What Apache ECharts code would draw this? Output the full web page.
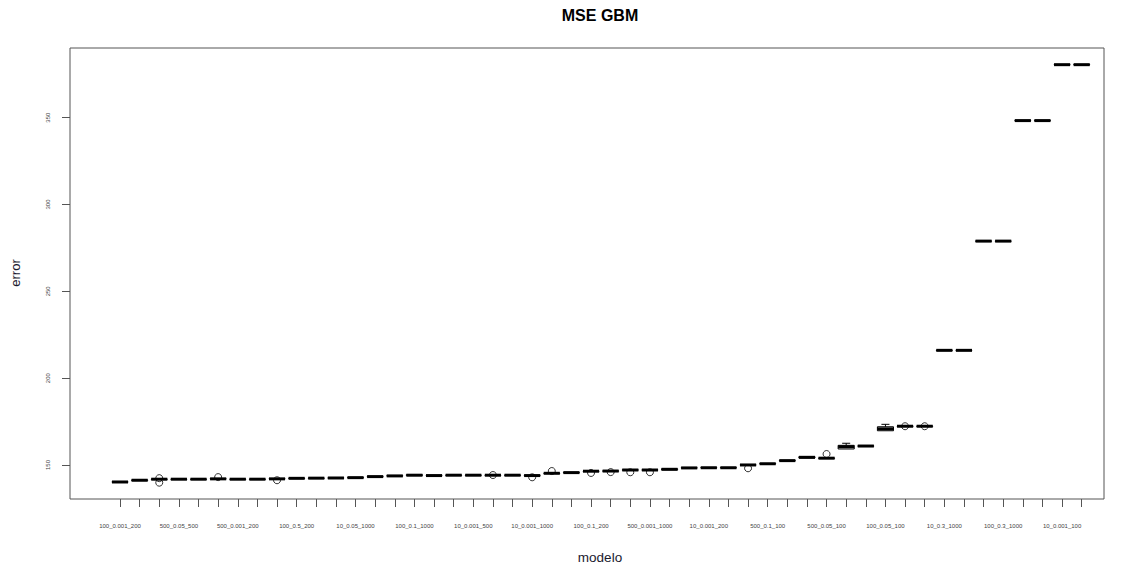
<!DOCTYPE html>
<html>
<head>
<meta charset="utf-8">
<script src="https://cdn.jsdelivr.net/npm/echarts@6/dist/echarts.min.js"></script>
<style>
html,body{margin:0;padding:0;background:#fff;}
#chart{width:1124px;height:570px;}
</style>
</head>
<body>
<div id="chart"></div>
<script>
// Category names (only every third one is legible in the reference; others left blank)
const categories = [
  '100_0.001_200','','','500_0.05_500','','','500_0.001_200','','','100_0.5_200',
  '','','10_0.05_1000','','','100_0.1_1000','','','10_0.001_500','',
  '','10_0.001_1000','','','100_0.1_200','','','500_0.001_1000','','',
  '10_0.001_200','','','500_0.1_100','','','500_0.05_100','','','100_0.05_100',
  '','','10_0.3_1000','','','100_0.3_1000','','','10_0.001_100',''
];
// Box statistics per category
const medians = [
  140.2,141.2,141.8,141.8,141.8,142.0,141.8,141.8,142.0,142.3,
  142.4,142.5,142.7,143.3,143.7,144.1,143.9,144.1,144.1,144.1,
  144.1,143.9,145.2,145.6,146.4,146.5,147.1,147.1,147.5,148.3,
  148.4,148.4,150.0,150.7,152.5,154.4,153.9,160.5,160.9,170.8,
  172.3,172.3,216.0,216.0,278.9,278.9,348.3,348.3,380.5,380.5
];
const q1 = [
  140.1,141.0,141.7,141.7,141.7,141.9,141.7,141.7,141.9,142.2,
  142.3,142.4,142.6,143.2,143.6,143.9,143.8,144.0,144.0,144.0,
  144.0,143.8,145.1,145.5,146.3,146.4,147.0,147.0,147.2,148.2,
  148.3,148.3,149.9,150.6,152.4,154.0,153.8,159.2,160.8,169.7,
  172.2,172.2,215.9,215.9,278.8,278.8,348.2,348.2,380.4,380.4
];
const q3 = [
  140.3,141.4,141.9,141.9,141.9,142.1,141.9,141.9,142.1,142.4,
  142.5,142.6,142.8,143.4,143.8,144.4,144.0,144.2,144.2,144.2,
  144.2,144.0,145.3,145.7,146.5,146.6,147.2,147.2,147.8,148.4,
  148.5,148.5,150.1,150.8,152.6,154.8,154.0,161.3,161.0,172.0,
  172.4,172.4,216.1,216.1,279.0,279.0,348.4,348.4,380.6,380.6
];
const whiskerLow = q1.slice();
const whiskerHigh = [
  140.3,141.4,141.9,141.9,141.9,142.1,141.9,141.9,142.1,142.4,
  142.5,142.6,142.8,143.4,143.8,144.4,144.0,144.2,144.2,144.2,
  144.2,144.0,145.3,145.7,146.5,146.6,147.2,147.2,147.8,148.4,
  148.5,148.5,150.1,150.8,152.6,154.8,154.0,162.5,161.0,173.4,
  172.4,172.4,216.1,216.1,279.0,279.0,348.4,348.4,380.6,380.6
];
// Outliers: [category number (1-based), value]
const outliers = [
  [3,142.4],[3,139.8],[6,143.0],[9,141.2],[20,144.2],[22,142.9],[23,146.5],
  [25,145.4],[26,145.9],[27,145.8],[28,145.8],[33,148.1],[37,156.3],
  [41,172.3],[42,172.3]
];
const yTicks = [150,200,250,300,350];

const xTickValues = categories.map((c,i)=>i+1);
const xLabelValues = categories.map((c,i)=>i+1).filter(v => categories[v-1] !== '');

const boxData = medians.map((m,i)=>[i+1, whiskerLow[i], q1[i], m, q3[i], whiskerHigh[i]]);

const chart = echarts.init(document.getElementById('chart'), null, {renderer:'svg'});

function renderBox(params, api){
  const x = api.value(0);
  const wlo = api.coord([x, api.value(1)]);
  const pq1 = api.coord([x, api.value(2)]);
  const pm = api.coord([x, api.value(3)]);
  const pq3 = api.coord([x, api.value(4)]);
  const whi = api.coord([x, api.value(5)]);
  const step = api.size([1,0])[0];
  const half = step*0.41;
  const cx = pm[0];
  const children = [];
  const black = '#000';
  if (whi[1] < pq3[1]-0.5){
    children.push({type:'line', shape:{x1:cx,y1:pq3[1],x2:cx,y2:whi[1]}, style:{stroke:black,lineWidth:1,lineDash:[3,2]}});
    children.push({type:'line', shape:{x1:cx-half/2,y1:whi[1],x2:cx+half/2,y2:whi[1]}, style:{stroke:black,lineWidth:1}});
  }
  if (wlo[1] > pq1[1]+0.5){
    children.push({type:'line', shape:{x1:cx,y1:pq1[1],x2:cx,y2:wlo[1]}, style:{stroke:black,lineWidth:1,lineDash:[3,2]}});
    children.push({type:'line', shape:{x1:cx-half/2,y1:wlo[1],x2:cx+half/2,y2:wlo[1]}, style:{stroke:black,lineWidth:1}});
  }
  children.push({type:'rect', shape:{x:cx-half, y:pq3[1], width:half*2, height:Math.max(pq1[1]-pq3[1],0.1)}, style:{fill:'none',stroke:black,lineWidth:1}});
  children.push({type:'line', shape:{x1:cx-half,y1:pm[1],x2:cx+half,y2:pm[1]}, style:{stroke:black,lineWidth:3}});
  return {type:'group', children};
}

const option = {
  backgroundColor:'#fff',
  animation:false,
  grid:{left:70,right:20,top:48,bottom:71,show:true,borderColor:'#555',borderWidth:1,containLabel:false},
  xAxis:{
    type:'value', min:-1.548, max:51.136,
    axisLine:{show:false, onZero:false},
    splitLine:{show:false},
    axisTick:{show:true, customValues:xTickValues, length:8, lineStyle:{color:'#555',width:1}},
    axisLabel:{show:true, customValues:xLabelValues, margin:24, fontSize:6, color:'#444', fontFamily:'Liberation Sans, Arial, sans-serif',
      formatter:v=>categories[Math.round(v)-1] || ''}
  },
  yAxis:{
    type:'value', min:130.4, max:390.1,
    axisLine:{show:false, onZero:false},
    splitLine:{show:false},
    axisTick:{show:true, customValues:yTicks, length:8, lineStyle:{color:'#555',width:1}},
    axisLabel:{show:true, customValues:yTicks, rotate:90, margin:19, fontSize:6, color:'#444', fontFamily:'Liberation Sans, Arial, sans-serif'}
  },
  graphic:[
    {type:'text', x:600, y:15, silent:true,
     style:{text:'MSE GBM', fill:'#000', font:'bold 16px "Liberation Sans", Arial, sans-serif', textAlign:'center', textVerticalAlign:'middle'}},
    {type:'text', x:600, y:557, silent:true,
     style:{text:'modelo', fill:'#1a1a2e', font:'13.5px "Liberation Sans", Arial, sans-serif', textAlign:'center', textVerticalAlign:'middle'}},
    {type:'text', x:15, y:273, rotation:Math.PI/2, silent:true,
     style:{text:'error', fill:'#1a1a2e', font:'13px "Liberation Sans", Arial, sans-serif', textAlign:'center', textVerticalAlign:'middle'}}
  ],
  series:[
    {type:'custom', renderItem:renderBox, data:boxData, encode:{x:0,y:[1,2,3,4,5]}, clip:false, z:3},
    {type:'scatter', data:outliers, symbol:'circle', symbolSize:7,
     itemStyle:{color:'rgba(0,0,0,0)', borderColor:'#000', borderWidth:1}, z:4}
  ]
};
chart.setOption(option);
</script>
</body>
</html>
